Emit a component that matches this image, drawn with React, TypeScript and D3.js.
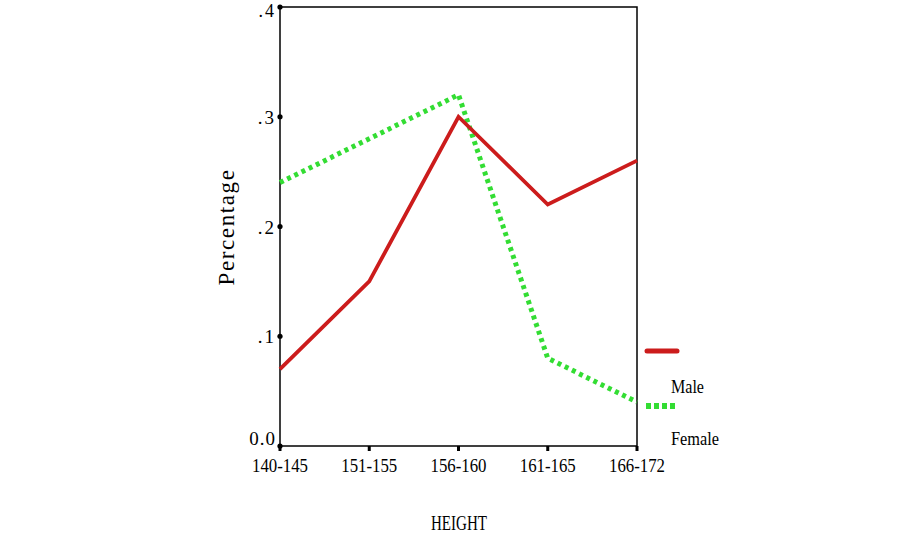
import React from "react";
import * as d3 from "d3";

const categories = ["140-145", "151-155", "156-160", "161-165", "166-172"];
const maleValues = [0.07, 0.15, 0.30, 0.22, 0.26];
const femaleValues = [0.24, 0.28, 0.32, 0.08, 0.04];
const yTicks = [0, 0.1, 0.2, 0.3, 0.4];
const yTickLabels = ["0.0", ".1", ".2", ".3", ".4"];
const seriesNames = ["Male", "Female"];

const W = 912;
const H = 547;
const left = 280;
const right = 637;
const top = 7;
const bottom = 446;
const FONT = "'Liberation Serif', 'Times New Roman', serif";

export default function App() {
  const x = d3.scalePoint<string>().domain(categories).range([left, right]).padding(0);
  const y = d3.scaleLinear().domain([0, 0.4]).range([bottom, top]);
  const line = d3
    .line<number>()
    .x((_, i) => x(categories[i]) as number)
    .y((d) => y(d));

  return (
    <svg
      width={W}
      height={H}
      style={{ position: "absolute", left: 0, top: 0, display: "block", background: "#fff" }}
      fontFamily={FONT}
    >
      <rect x={0} y={0} width={W} height={H} fill="#fff" />
      {/* frame */}
      <rect x={left} y={top} width={right - left} height={bottom - top} fill="none" stroke="#000" strokeWidth={1.5} />
      {/* y ticks */}
      {yTicks.map((t, i) => (
        <g key={"y" + i}>
          <circle cx={left} cy={y(t)} r={2.6} fill="#000" />
          <text
            x={left - 4}
            y={y(t)}
            dy={i === 0 ? -1 : i === yTicks.length - 1 ? 10 : 7}
            textAnchor="end"
            fontSize={i === yTicks.length - 1 ? 18 : 19}
            fill="#000"
            letterSpacing={i === 0 ? 1 : 2}
          >
            {yTickLabels[i]}
          </text>
        </g>
      ))}
      {/* x ticks */}
      {categories.map((c) => (
        <g key={c}>
          <line x1={x(c)} x2={x(c)} y1={bottom} y2={bottom + 5} stroke="#000" strokeWidth={3} />
          <text
            x={x(c)}
            y={bottom + 26}
            textAnchor="middle"
            fontSize={19}
            fill="#000"
            textLength={56}
            lengthAdjust="spacingAndGlyphs"
          >
            {c}
          </text>
        </g>
      ))}
      {/* axis titles */}
      <text x={459} y={530} textAnchor="middle" fontSize={22} fill="#000" textLength={56} lengthAdjust="spacingAndGlyphs">
        HEIGHT
      </text>
      <text
        transform={`translate(234,227) rotate(-90)`}
        textAnchor="middle"
        fontSize={23}
        fill="#000"
        letterSpacing={1.6}
      >
        Percentage
      </text>
      {/* series */}
      <path d={line(femaleValues) || ""} fill="none" stroke="#33dd33" strokeWidth={5} strokeDasharray="4,4" />
      <path d={line(maleValues) || ""} fill="none" stroke="#cc1c1c" strokeWidth={3.8} strokeLinejoin="miter" />
      {/* legend */}
      <line x1={647} x2={677} y1={351} y2={351} stroke="#cc1c1c" strokeWidth={5} strokeLinecap="round" />
      <text x={671} y={393} fontSize={18} fill="#000" textLength={33} lengthAdjust="spacingAndGlyphs">{seriesNames[0]}</text>
      <line x1={646} x2={678} y1={406} y2={406} stroke="#33dd33" strokeWidth={6} strokeDasharray="5,3" />
      <text x={671} y={445} fontSize={18} fill="#000" textLength={48} lengthAdjust="spacingAndGlyphs">{seriesNames[1]}</text>
    </svg>
  );
}
